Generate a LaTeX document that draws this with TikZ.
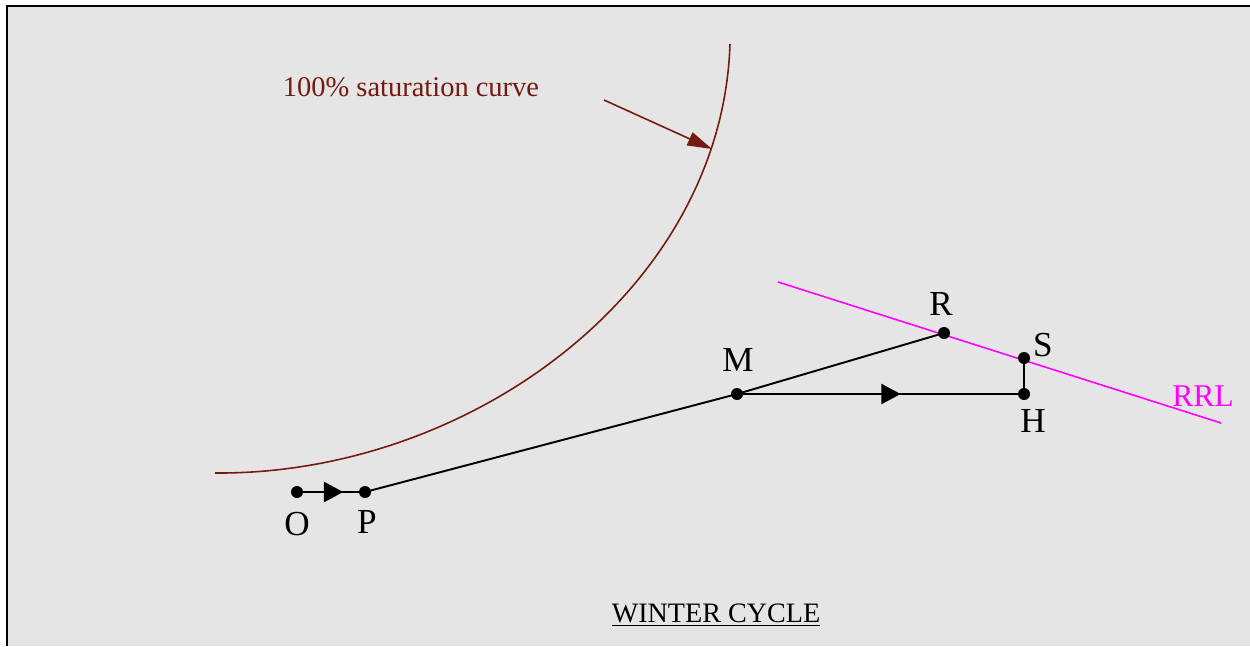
\documentclass[tikz,border=0pt]{standalone}
\usepackage{fontspec}
\setmainfont{Liberation Serif}
\usetikzlibrary{arrows.meta,decorations.markings}
\definecolor{bg}{HTML}{E5E5E5}
\definecolor{sat}{HTML}{741A10}
\definecolor{rrl}{HTML}{FF00FF}
\tikzset{
  pt/.style={circle,fill=black,inner sep=0pt,minimum size=12*0.02cm},
  lbl/.style={font=\fontsize{20}{22}\selectfont,inner sep=0pt},
  ln/.style={line width=1.1pt,black},
  midarrow/.style={decoration={markings,mark=at position #1 with {\arrow{Triangle[length=11pt,width=11.5pt]}}},postaction={decorate}}
}
\begin{document}
\begin{tikzpicture}[x=0.02cm,y=-0.02cm]
\useasboundingbox (0,0) rectangle (1250,646);
\fill[white] (0,0) rectangle (1250,646);
\fill[bg] (7,6) rectangle (1250,646);
\draw[line width=1.3pt] (7,646) -- (7,6) -- (1250,6);
% saturation curve
\draw[sat,line width=0.9pt] (730,44) .. controls (722,290) and (470,475) .. (215,473);
\coordinate (sa) at (604,100);
\coordinate (sb) at (712,149);
\draw[sat,line width=0.9pt,-{Triangle[length=14pt,width=8pt]}] (sa) -- (sb);
\node[sat,font=\fontsize{16.2}{18}\selectfont,inner sep=0pt] (satl) at (411,87) {100\% saturation curve};
% RRL line
\coordinate (r1) at (778,282);
\coordinate (r2) at (1221,423);
\draw[rrl,line width=0.9pt] (r1) -- (r2);
\node[rrl,font=\fontsize{18}{20}\selectfont,inner sep=0pt] (rrlt) at (1203,396) {RRL};
% points
\node[pt] (O) at (297,492) {};
\node[pt] (P) at (365,492) {};
\node[pt] (M) at (737,394) {};
\node[pt] (R) at (944,333) {};
\node[pt] (S) at (1024,358) {};
\node[pt] (H) at (1024,394) {};
\draw[ln,midarrow=0.68] (O.center) -- (P.center);
\draw[ln] (P.center) -- (M.center);
\draw[ln] (M.center) -- (R.center);
\draw[ln,midarrow=0.57] (M.center) -- (H.center);
\draw[ln] (H.center) -- (S.center);
\node[lbl] (Ol) at (297,524) {O};
\node[lbl] (Pl) at (367,522) {P};
\node[lbl] (Ml) at (738,360) {M};
\node[lbl] (Rl) at (941,304) {R};
\node[lbl] (Sl) at (1043,345) {S};
\node[lbl] (Hl) at (1033,421) {H};
\node[font=\fontsize{16}{18}\selectfont,inner sep=0pt] (title) at (716,615) {\underline{WINTER CYCLE}};
\end{tikzpicture}
\end{document}
